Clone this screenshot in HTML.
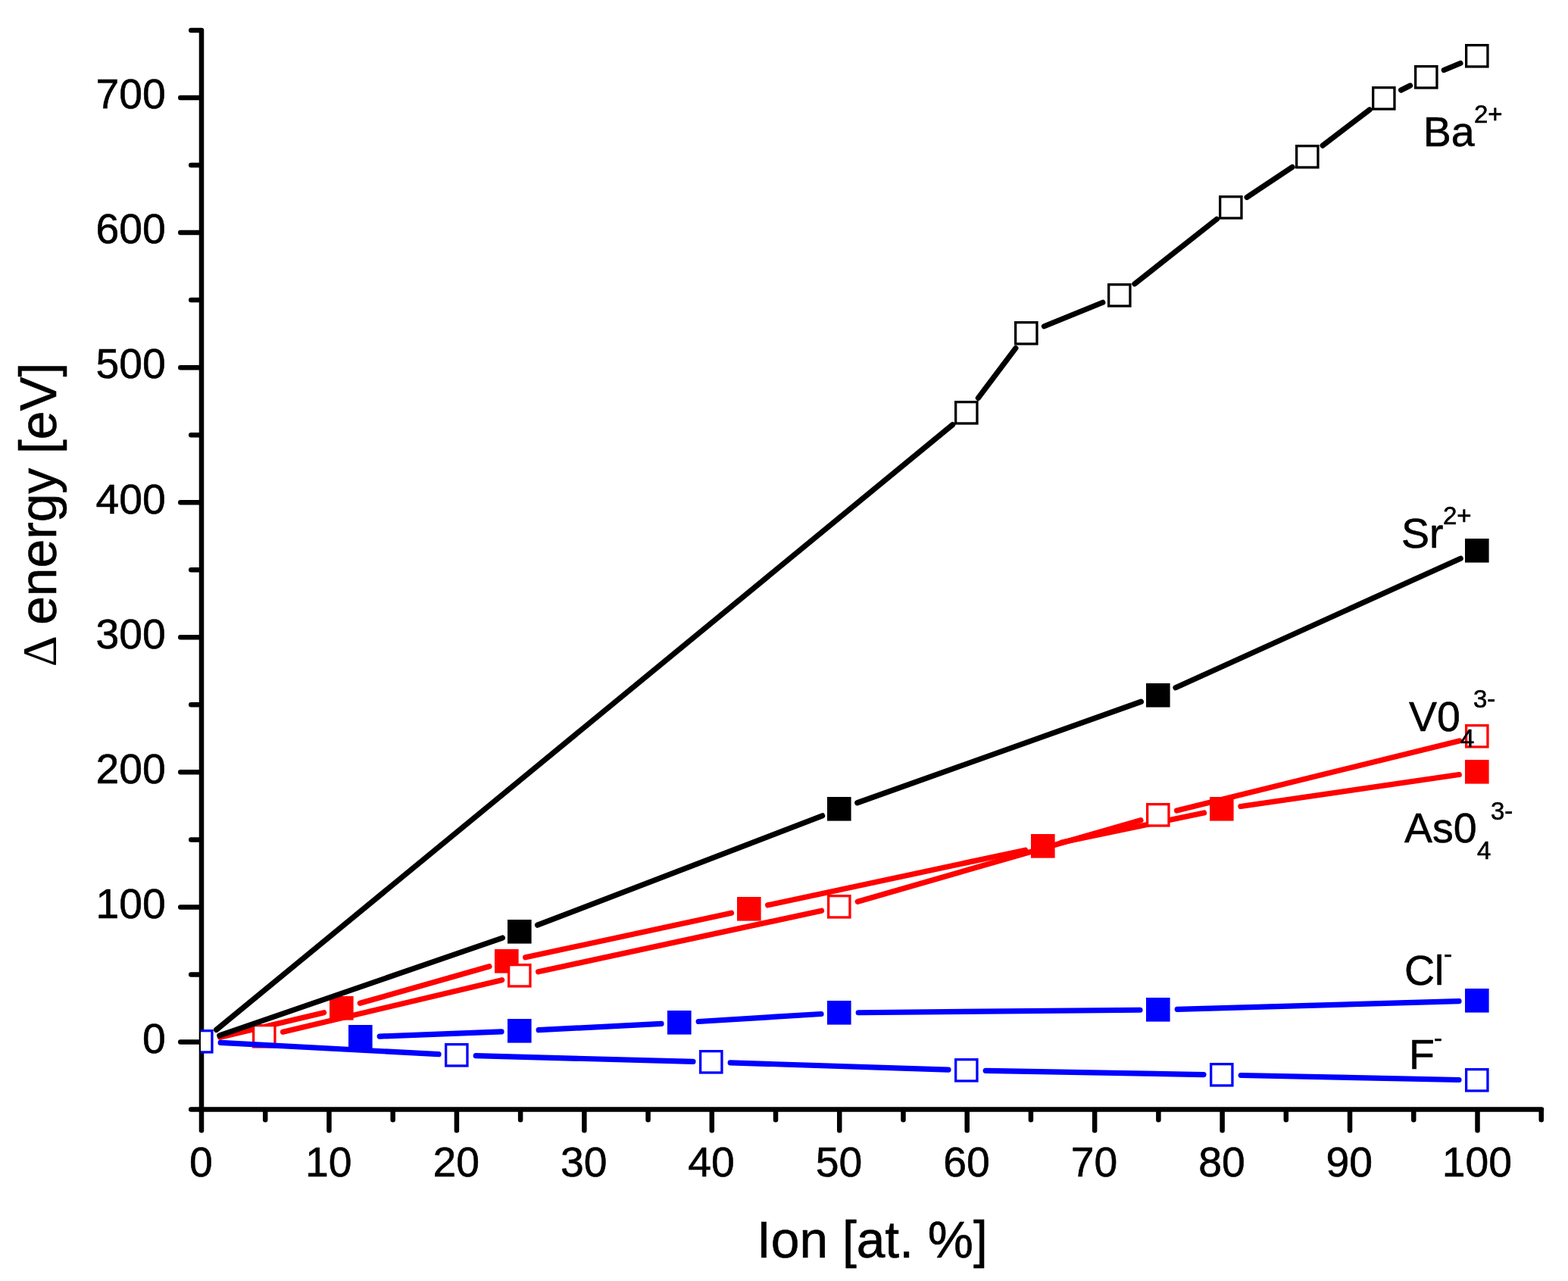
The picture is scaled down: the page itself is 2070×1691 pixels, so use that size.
<!DOCTYPE html>
<html lang="en"><head><meta charset="utf-8"><title>Δ energy vs Ion [at. %]</title>
<style>
html,body{margin:0;padding:0;background:#fff;}
body{width:2070px;height:1691px;overflow:hidden;}
svg{display:block;}
text{font-family:"Liberation Sans",Arial,Helvetica,sans-serif;fill:#000;stroke:#000;stroke-width:0.6px;stroke-linejoin:round;}
.tk{font-size:55.3px;}
.lb{font-size:55.5px;}
.ss{font-size:33px;}
.ti{font-size:67.7px;}
.ax{stroke:#000;stroke-width:6.5;stroke-linecap:round;fill:none;}
.ln{stroke-width:7.2;stroke-linecap:round;fill:none;}
</style></head><body>
<svg width="2070" height="1691" viewBox="0 0 2070 1691">
<rect width="2070" height="1691" fill="#fff"/>
<defs><clipPath id="cp"><rect x="265" y="0" width="1805" height="1691"/></clipPath></defs>
<g class="ax">
<path d="M266 40 V1492.25"/>
<path d="M252.25 1464.5 H2035"/>
<path d="M265 1375.5H238.25M265 1286.46H252.25M265 1197.43H238.25M265 1108.39H252.25M265 1019.36H238.25M265 930.33H252.25M265 841.29H238.25M265 752.25H252.25M265 663.22H238.25M265 574.19H252.25M265 485.15H238.25M265 396.12H252.25M265 307.08H238.25M265 218.05H252.25M265 129.01H238.25M265 39.98H252.25"/>
<path d="M350.23 1465.5V1478.25M434.45 1465.5V1492.25M518.67 1465.5V1478.25M602.9 1465.5V1492.25M687.12 1465.5V1478.25M771.35 1465.5V1492.25M855.57 1465.5V1478.25M939.8 1465.5V1492.25M1024.03 1465.5V1478.25M1108.25 1465.5V1492.25M1192.47 1465.5V1478.25M1276.7 1465.5V1492.25M1360.92 1465.5V1478.25M1445.15 1465.5V1492.25M1529.38 1465.5V1478.25M1613.6 1465.5V1492.25M1697.82 1465.5V1478.25M1782.05 1465.5V1492.25M1866.27 1465.5V1478.25M1950.5 1465.5V1492.25M2034.72 1465.5V1478.25"/>
</g>
<g clip-path="url(#cp)">
<path class="ln" stroke="#f00" d="M290.53 1369.31L427.67 1336.69M475.26 1324.27L645.94 1275.73M693.65 1263.81L965.55 1205.19M1013.66 1194.85L1353.54 1122.15M1401.69 1112L1589.51 1073M1637.94 1064.46L1926.26 1022.54"/>
<g fill="#f00"><rect x="435" y="1315" width="31.6" height="31.6"/><rect x="653" y="1253" width="31.6" height="31.6"/><rect x="973" y="1184" width="31.6" height="31.6"/><rect x="1361" y="1101" width="31.6" height="31.6"/><rect x="1597" y="1052" width="31.6" height="31.6"/><rect x="1934" y="1003" width="31.6" height="31.6"/></g>
<path class="ln" stroke="#f00" d="M373.53 1362.32L662.67 1293.68M710.65 1282.81L1084.55 1202.19M1132.24 1190.2L1505.96 1082.8M1553.48 1070.1L1926.72 977.9"/>
<g fill="#f00"><rect x="333" y="1352" width="31.6" height="31.6"/><rect x="670" y="1272" width="31.6" height="31.6"/><rect x="1092" y="1181" width="31.6" height="31.6"/><rect x="1513" y="1060" width="31.6" height="31.6"/><rect x="1934" y="956" width="31.6" height="31.6"/></g>
<g fill="#fff"><rect x="336.3" y="1355.3" width="25" height="25"/><rect x="673.3" y="1275.3" width="25" height="25"/><rect x="1095.3" y="1184.3" width="25" height="25"/><rect x="1516.3" y="1063.3" width="25" height="25"/><rect x="1937.3" y="959.3" width="25" height="25"/></g>
<path class="ln" stroke="#000" d="M285.61 1359.38L1257.59 560.62M1291.39 525.34L1340.81 459.66M1378.39 430.74L1455.81 399.26M1497.91 374.76L1606.29 289.24M1646.1 260.4L1706.1 220.6M1746.16 192.09L1808.04 144.91M1849.6 119L1861.6 113M1906.3 92.51L1927.9 83.49"/>
<g fill="#000"><rect x="1260" y="529" width="31.6" height="31.6"/><rect x="1339" y="424" width="31.6" height="31.6"/><rect x="1462" y="374" width="31.6" height="31.6"/><rect x="1609" y="258" width="31.6" height="31.6"/><rect x="1710" y="191" width="31.6" height="31.6"/><rect x="1811" y="114" width="31.6" height="31.6"/><rect x="1867" y="86" width="31.6" height="31.6"/><rect x="1934" y="58" width="31.6" height="31.6"/></g>
<g fill="#fff"><rect x="1263.3" y="532.3" width="25" height="25"/><rect x="1342.3" y="427.3" width="25" height="25"/><rect x="1465.3" y="377.3" width="25" height="25"/><rect x="1612.3" y="261.3" width="25" height="25"/><rect x="1713.3" y="194.3" width="25" height="25"/><rect x="1814.3" y="117.3" width="25" height="25"/><rect x="1870.3" y="89.3" width="25" height="25"/><rect x="1937.3" y="61.3" width="25" height="25"/></g>
<path class="ln" stroke="#000" d="M289.85 1366.97L663.35 1238.03M709.57 1221.18L1085.63 1076.82M1131.77 1059.74L1506.43 926.26M1552 907.84L1928.2 737.16"/>
<g fill="#000"><rect x="670" y="1214" width="31.6" height="31.6"/><rect x="1092" y="1052" width="31.6" height="31.6"/><rect x="1513" y="902" width="31.6" height="31.6"/><rect x="1934" y="711" width="31.6" height="31.6"/></g>
<path class="ln" stroke="#00f" d="M501.18 1368.06L662.02 1361.94M711.17 1359.72L873.03 1351.28M922.15 1348.49L1084.05 1338.51M1133.2 1336.77L1505 1333.23M1554.19 1332.3L1926.01 1321.7"/>
<g fill="#00f"><rect x="460" y="1353" width="31.6" height="31.6"/><rect x="670" y="1345" width="31.6" height="31.6"/><rect x="881" y="1334" width="31.6" height="31.6"/><rect x="1092" y="1321" width="31.6" height="31.6"/><rect x="1513" y="1317" width="31.6" height="31.6"/><rect x="1934" y="1305" width="31.6" height="31.6"/></g>
<path class="ln" stroke="#00f" d="M291.16 1376.31L579.04 1391.69M628.19 1393.66L915.01 1401.34M964.19 1402.8L1252.01 1412.2M1301.2 1413.44L1589 1418.56M1638.19 1419.51L1926.01 1425.49"/>
<g fill="#00f"><rect x="250" y="1359" width="31.6" height="31.6"/><rect x="587" y="1377" width="31.6" height="31.6"/><rect x="923" y="1386" width="31.6" height="31.6"/><rect x="1260" y="1397" width="31.6" height="31.6"/><rect x="1597" y="1403" width="31.6" height="31.6"/><rect x="1934" y="1410" width="31.6" height="31.6"/></g>
<g fill="#fff"><rect x="253.3" y="1362.3" width="25" height="25"/><rect x="590.3" y="1380.3" width="25" height="25"/><rect x="926.3" y="1389.3" width="25" height="25"/><rect x="1263.3" y="1400.3" width="25" height="25"/><rect x="1600.3" y="1406.3" width="25" height="25"/><rect x="1937.3" y="1413.3" width="25" height="25"/></g>
</g>
<g class="tk" text-anchor="end">
<text transform="translate(218.8 1389.8) scale(1 1.01)">0</text>
<text transform="translate(218.8 1211.73) scale(1 1.01)">100</text>
<text transform="translate(218.8 1033.66) scale(1 1.01)">200</text>
<text transform="translate(218.8 855.59) scale(1 1.01)">300</text>
<text transform="translate(218.8 677.52) scale(1 1.01)">400</text>
<text transform="translate(218.8 499.45) scale(1 1.01)">500</text>
<text transform="translate(218.8 321.38) scale(1 1.01)">600</text>
<text transform="translate(218.8 143.31) scale(1 1.01)">700</text>
</g>
<g class="tk" text-anchor="middle">
<text transform="translate(265.3 1553) scale(1 1.01)">0</text>
<text transform="translate(433.75 1553) scale(1 1.01)">10</text>
<text transform="translate(602.2 1553) scale(1 1.01)">20</text>
<text transform="translate(770.65 1553) scale(1 1.01)">30</text>
<text transform="translate(939.1 1553) scale(1 1.01)">40</text>
<text transform="translate(1107.55 1553) scale(1 1.01)">50</text>
<text transform="translate(1276 1553) scale(1 1.01)">60</text>
<text transform="translate(1444.45 1553) scale(1 1.01)">70</text>
<text transform="translate(1612.9 1553) scale(1 1.01)">80</text>
<text transform="translate(1781.35 1553) scale(1 1.01)">90</text>
<text transform="translate(1949.8 1553) scale(1 1.01)">100</text>
</g>
<text class="ti" x="999" y="1659.8">Ion [at. %]</text>
<text class="ti" transform="translate(74.3 0) rotate(-90)"><tspan x="-880.2" style="font-family:'Liberation Serif','DejaVu Serif',serif;font-size:64px;stroke:none">Δ</tspan> <tspan x="-824.8">energy [eV]</tspan></text>
<text><tspan class="lb" x="1878.8" y="192.8">Ba</tspan><tspan class="ss" x="1946" y="161.7">2+</tspan></text>
<text><tspan class="lb" x="1850" y="723.3">Sr</tspan><tspan class="ss" x="1905" y="691.7">2+</tspan></text>
<text><tspan class="lb" x="1860" y="964.8">V0</tspan><tspan class="ss" x="1928" y="986.2">4</tspan><tspan class="ss" x="1945" y="934.1">3-</tspan></text>
<text><tspan class="lb" x="1854" y="1111.9">As0</tspan><tspan class="ss" x="1950" y="1134.1">4</tspan><tspan class="ss" x="1968" y="1082.2">3-</tspan></text>
<text><tspan class="lb" x="1854" y="1299.7">Cl</tspan><tspan class="ss" x="1906" y="1270.6">-</tspan></text>
<text><tspan class="lb" x="1860" y="1411">F</tspan><tspan class="ss" x="1893" y="1382">-</tspan></text>
</svg>
</body></html>
